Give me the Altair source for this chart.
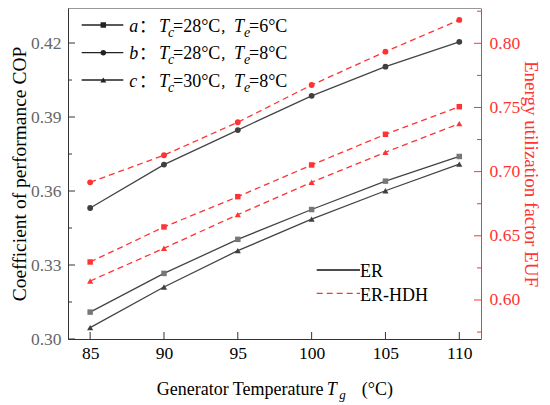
import altair as alt
import pandas as pd

# ---------------- data ----------------
T_g = [85, 90, 95, 100, 105, 110]
cases = ["a", "b", "c"]
cop_a = [0.3109, 0.3266, 0.3404, 0.3525, 0.3640, 0.3740]
cop_b = [0.3531, 0.3707, 0.3847, 0.3986, 0.4104, 0.4205]
cop_c = [0.3046, 0.3211, 0.3358, 0.3486, 0.3601, 0.3709]
euf_a = [0.6296, 0.6569, 0.6805, 0.7052, 0.7291, 0.7506]
euf_b = [0.6917, 0.7128, 0.7385, 0.7675, 0.7935, 0.8182]
euf_c = [0.6148, 0.6403, 0.6665, 0.6917, 0.7151, 0.7374]

x_ticks = [85, 90, 95, 100, 105, 110]
cop_major = [0.30, 0.33, 0.36, 0.39, 0.42]
cop_minor = [0.315, 0.345, 0.375, 0.405]
euf_major = [0.60, 0.65, 0.70, 0.75, 0.80]
euf_minor = [0.575, 0.625, 0.675, 0.725, 0.775, 0.825]

legend_rows = [
    ("a", "28°C", "6°C", "square"),
    ("b", "28°C", "8°C", "circle"),
    ("c", "30°C", "8°C", "triangle-up"),
]

# ---------------- style ----------------
W, H = 413, 331
FONT = "Liberation Serif"
CJK = "Noto Sans CJK SC"
RED = "#ff3333"
DARK = "#444444"
AX = "#333333"

cop_df = pd.DataFrame({
    "T": T_g * 3,
    "case": [c for c in cases for _ in T_g],
    "v": cop_a + cop_b + cop_c,
})
euf_df = pd.DataFrame({
    "T": T_g * 3,
    "case": [c for c in cases for _ in T_g],
    "w": euf_a + euf_b + euf_c,
})

xs = alt.Scale(domain=[83.5, 111.47], nice=False, zero=False)
ys_l = alt.Scale(domain=[0.30, 0.4342], nice=False, zero=False)
ys_r = alt.Scale(domain=[0.5696, 0.8275], nice=False, zero=False)

shape_scale = alt.Scale(domain=cases, range=["square", "circle", "triangle-up"])
size_scale = alt.Scale(domain=cases, range=[30, 38, 42])

x_axis = alt.Axis(values=x_ticks, title=None, ticks=False, labelPadding=5,
                  labelColor="#000", labelFontSize=17.5, labelFont=FONT,
                  domainColor=AX, grid=False, format="d", orient="bottom")
yl_axis = alt.Axis(values=cop_major, format=".2f", title="Coefficient of performance COP",
                   titleColor="#000", titleFontSize=19.5, titleFontWeight="normal", titleFont=FONT,
                   titlePadding=1, labelColor="#666666", labelFontSize=17.5, labelFont=FONT,
                   labelPadding=7, ticks=False, domainColor=AX, grid=False, orient="left")
yr_axis = alt.Axis(values=euf_major, format=".2f", title="Energy utilization factor EUF",
                   titleColor=RED, titleFontSize=19, titleFontWeight="normal", titleFont=FONT,
                   titlePadding=1, labelColor=RED, labelFontSize=17.5, labelFont=FONT,
                   labelPadding=8, ticks=False, domainColor=RED, grid=False, orient="right")

X = alt.X("T:Q", scale=xs, axis=x_axis)
YL = alt.Y("v:Q", scale=ys_l, axis=yl_axis)
YR = alt.Y("w:Q", scale=ys_r, axis=yr_axis)

one = alt.Data(values=[{}])


def txt(s, x, y, size=18, style="normal", color="#000", font=FONT):
    return alt.Chart(one).mark_text(
        text=s, font=font, fontSize=size, fontStyle=style, color=color,
        align="left", baseline="alphabetic"
    ).encode(x=alt.value(x), y=alt.value(y))


def hline(x1, x2, y, color, dash=None):
    kw = dict(color=color, strokeWidth=1.3)
    if dash:
        kw["strokeDash"] = dash
    return alt.Chart(one).mark_rule(**kw).encode(x=alt.value(x1), x2=alt.value(x2), y=alt.value(y))


# ---------------- left (COP) ----------------
cop_lines = alt.Chart(cop_df).mark_line(color=DARK, strokeWidth=1.3).encode(
    x=X, y=YL, detail="case:N")
cop_pts = alt.Chart(cop_df).mark_point(filled=True, opacity=1).encode(
    x=X, y=YL,
    shape=alt.Shape("case:N", scale=shape_scale, legend=None),
    size=alt.Size("case:N", scale=size_scale, legend=None),
    color=alt.Color("case:N", scale=alt.Scale(domain=cases, range=["#777777", "#3f3f3f", "#3f3f3f"]), legend=None),
)
l_major = alt.Chart(pd.DataFrame({"v": cop_major})).mark_rule(color=AX).encode(
    y=YL, x=alt.value(0), x2=alt.value(7))
l_minor = alt.Chart(pd.DataFrame({"v": cop_minor})).mark_rule(color=AX).encode(
    y=YL, x=alt.value(0), x2=alt.value(4))
x_tk = alt.Chart(pd.DataFrame({"T": x_ticks})).mark_rule(color=AX).encode(
    x=X, y=alt.value(H), y2=alt.value(H - 7))
top = alt.Chart(one).mark_rule(color=AX, strokeWidth=1.2).encode(
    x=alt.value(0), x2=alt.value(W), y=alt.value(0))

extras = [top]
row_line_y = [17, 44.7, 72]
row_base_y = [23.7, 51.3, 79.2]
for (lab, tc, te, shp), ly, by in zip(legend_rows, row_line_y, row_base_y):
    extras.append(hline(13.7, 55.3, ly, "#222222"))
    extras.append(alt.Chart(one).mark_point(shape=shp, filled=True, opacity=1, color="#222222",
                                             size=30 if shp != "triangle-up" else 36)
                  .encode(x=alt.value(35.3), y=alt.value(ly)))
    extras.append(txt(lab, 61.3, by, style="italic"))
    extras.append(txt("：", 71, by, font=CJK, size=17))
    extras.append(txt("T", 91, by, style="italic"))
    extras.append(txt("c", 100, by + 5, size=14, style="italic"))
    extras.append(txt("=" + tc, 105, by))
    extras.append(txt("，", 152, by, font=CJK, size=13))
    extras.append(txt("T", 166, by, style="italic"))
    extras.append(txt("e", 176, by + 5, size=14, style="italic"))
    extras.append(txt("=" + te, 181, by))

# legend 2
extras.append(hline(248.7, 292, 262, "#111111"))
extras.append(hline(248.7, 292, 285.3, RED, dash=[6, 4]))
extras.append(txt("ER", 292, 268.7))
extras.append(txt("ER-HDH", 292, 292.7))

# x title
extras.append(txt("Generator Temperature", 88.7, 387))
extras.append(txt("T", 258.7, 387, style="italic"))
extras.append(txt("g", 271.3, 391, size=13, style="italic"))
extras.append(txt("(°C)", 293.7, 387))

left = alt.layer(cop_lines, cop_pts, l_major, l_minor, x_tk, *extras)

# ---------------- right (EUF) ----------------
euf_lines = alt.Chart(euf_df).mark_line(color=RED, strokeWidth=1.3, strokeDash=[6, 4]).encode(
    x=X, y=YR, detail="case:N")
euf_pts = alt.Chart(euf_df).mark_point(filled=True, opacity=1, color=RED).encode(
    x=X, y=YR,
    shape=alt.Shape("case:N", scale=shape_scale, legend=None),
    size=alt.Size("case:N", scale=size_scale, legend=None),
)
r_major = alt.Chart(pd.DataFrame({"w": euf_major})).mark_rule(color=RED).encode(
    y=YR, x=alt.value(W), x2=alt.value(W - 7))
r_minor = alt.Chart(pd.DataFrame({"w": euf_minor})).mark_rule(color=RED).encode(
    y=YR, x=alt.value(W), x2=alt.value(W - 4))

right = alt.layer(euf_lines, euf_pts, r_major, r_minor)

chart = alt.layer(left, right).resolve_scale(y="independent").properties(
    width=W, height=H,
    padding={"left": 60, "top": 0, "right": 61, "bottom": 66},
    autosize=alt.AutoSizeParams(type="none"),
).configure(
    font=FONT,
    style={"guide-label": {"font": FONT}, "guide-title": {"font": FONT}},
).configure_view(stroke=None)

chart.save("out.html", embed_options={"renderer": "svg", "actions": False})
